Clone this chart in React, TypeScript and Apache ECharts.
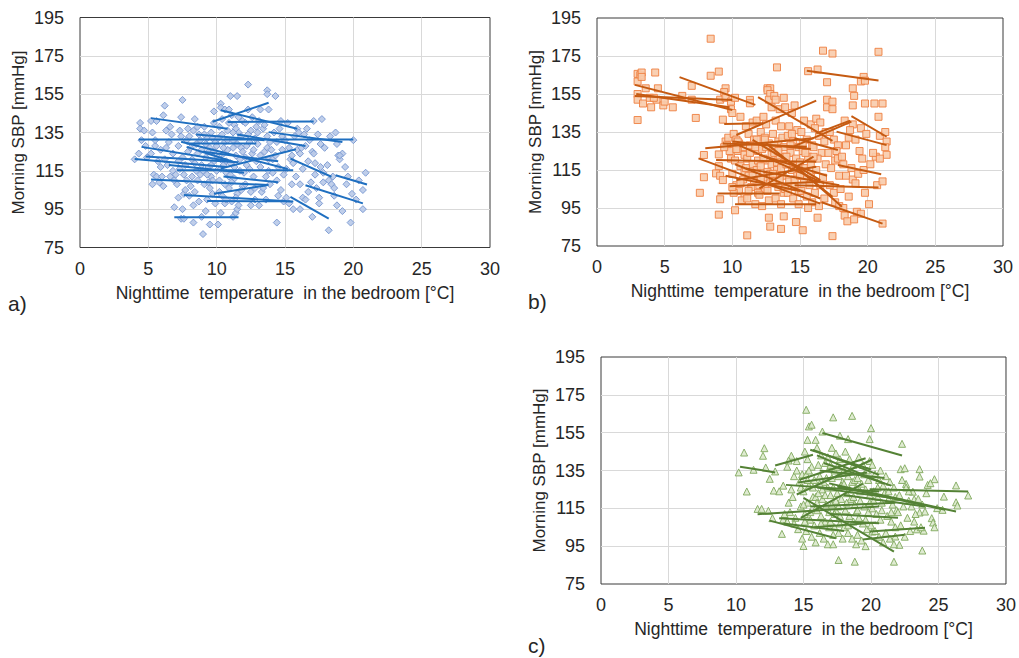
import React, { useEffect, useRef } from "react";
import * as echarts from "echarts";

// Panel a) — [temperature °C, morning SBP mmHg]
const A_POINTS: [number, number][] = [
  [4.0,121],[4.4,140],[4.4,137],[4.7,136],[4.8,128],[4.9,122],[4.5,131],[4.3,124],
  [5.2,141],[5.3,108],[5.4,113],[5.5,128],[5.6,141],[5.2,124],[5.8,109],[5.9,117],[5.5,131],[5.7,120],[5.3,135],[5.9,126],[5.6,112],
  [6.1,107],[6.0,112],[6.2,149],[6.1,144],[6.6,112],[6.3,136],[6.5,130],[6.8,124],[6.2,121],[6.7,134],[6.4,118],[6.9,96],[6.9,110],[6.3,127],[6.6,138],[6.8,115],
  [7.0,113],[7.2,101],[7.4,143],[7.5,152],[7.6,103],[7.4,90],[7.5,95],[7.6,90],[7.2,128],[7.3,136],[7.5,122],[7.7,118],[7.8,131],[7.1,108],[7.9,125],[7.6,113],[7.3,116],[7.8,110],[7.4,133],[7.9,137],[7.7,105],[7.2,120],
  [8.3,88],[8.4,142],[8.0,133],[8.1,127],[8.2,121],[8.5,115],[8.6,110],[8.4,104],[8.7,99],[8.9,91],[8.8,131],[8.3,136],[8.6,124],[8.2,112],[8.9,118],[8.5,129],[8.1,107],[8.7,134],[8.4,119],[8.8,113],[8.0,102],[8.6,138],[8.9,126],[8.3,97],
  [9.0,82],[9.2,94],[9.5,87],[9.1,138],[9.3,132],[9.5,127],[9.2,122],[9.4,117],[9.6,112],[9.1,108],[9.8,146],[9.8,140],[9.7,103],[9.3,100],[9.9,130],[9.6,135],[9.4,125],[9.8,120],[9.0,115],[9.7,110],[9.5,106],[9.2,129],[9.9,98],[9.6,118],[9.3,113],[9.8,125],[9.1,134],[9.7,132],[9.4,109],
  [10.1,87],[10.3,93],[10.3,150],[10.3,148],[10.6,147],[10.9,147],[10.2,138],[10.4,134],[10.6,130],[10.8,126],[10.1,122],[10.5,118],[10.7,114],[10.2,110],[10.9,106],[10.4,102],[10.6,98],[10.0,128],[10.8,136],[10.3,116],[10.5,124],[10.1,132],[10.7,120],[10.9,112],[10.2,104],[10.6,108],[10.4,142],[10.8,131],[10.0,115],[10.5,127],[10.9,140],[10.3,121],[10.7,100],
  [11.0,154],[11.5,154],[11.2,91],[11.4,93],[11.5,95],[11.1,144],[11.3,139],[11.6,135],[11.2,131],[11.8,127],[11.4,123],[11.0,119],[11.7,115],[11.3,111],[11.9,107],[11.5,103],[11.1,99],[11.6,97],[11.2,127],[11.8,133],[11.4,137],[11.0,113],[11.7,121],[11.3,117],[11.9,141],[11.5,129],[11.1,109],[11.8,105],[11.6,143],[11.2,135],[11.4,101],[11.9,125],
  [12.3,160],[12.3,147],[12.1,140],[12.5,136],[12.8,132],[12.2,128],[12.6,124],[12.9,120],[12.4,116],[12.7,112],[12.1,108],[12.5,104],[12.8,100],[12.3,134],[12.9,138],[12.6,143],[12.2,118],[12.7,126],[12.4,130],[12.0,114],[12.8,106],[12.5,97],[12.1,122],
  [13.2,147],[13.7,157],[13.7,155],[13.8,147],[13.1,141],[13.4,137],[13.7,133],[13.0,129],[13.5,125],[13.8,121],[13.2,117],[13.6,112],[13.9,108],[13.3,104],[13.6,100],[13.1,97],[13.5,139],[13.9,130],[13.2,123],[13.8,115],[13.4,106],[13.0,135],[13.7,127],
  [14.3,154],[14.7,141],[14.2,135],[14.4,130],[14.8,126],[14.1,121],[14.5,117],[14.4,110],[14.9,113],[14.4,88],[14.9,99],[14.6,137],[14.0,126],[14.8,133],[14.3,123],[14.7,105],[14.1,114],[14.5,102],
  [15.1,101],[15.6,95],[15.4,121],[15.5,123],[15.6,119],[15.9,137],[15.0,131],[15.3,127],[15.7,133],[15.2,140],[15.8,112],[15.1,116],[15.5,108],[15.3,98],[15.9,126],
  [16.1,124],[16.2,127],[16.5,128],[16.0,135],[16.4,134],[16.1,108],[16.1,95],[16.3,101],[16.5,100],[16.8,131],[16.6,137],[16.3,116],[16.7,120],[16.9,109],[17.0,91],[17.0,125],[17.1,124],[16.7,104],
  [17.7,142],[17.1,141],[17.6,129],[17.2,113],[17.6,117],[17.8,114],[17.8,109],[17.5,98],[17.5,101],[17.4,134],[17.3,106],[17.9,127],[17.2,119],
  [18.7,135],[18.3,133],[18.2,110],[18.4,108],[18.8,97],[18.2,84],[18.6,106],[18.9,123],[18.5,112],[18.8,129],[18.1,118],[18.6,102],
  [19.2,124],[19.0,121],[19.0,123],[19.6,112],[20.0,131],[20.7,105],[19.9,103],[20.7,95],[19.8,88],[19.2,94],[20.9,114],[19.5,108],[20.2,100],[19.4,117],[20.4,110]
];

// Panel a) regression segments [T1, SBP1, T2, SBP2]
const A_LINES: [number, number, number, number][] = [
  [4.3,131.3,20.0,131.3],[5.2,142.5,10.8,137.0],[10.8,140.5,17.1,140.7],[9.7,140.6,13.8,150.5],
  [10.3,146.6,15.9,137.0],[4.0,121.2,10.7,117.0],[4.5,127.5,11.0,120.0],[4.8,122.5,11.6,119.5],
  [5.2,110.5,13.8,107.6],[6.9,90.8,11.6,90.8],[7.6,102.4,15.6,99.0],[9.3,99.3,15.6,99.1],
  [7.4,130.2,15.2,116.0],[15.4,121.4,18.4,111.9],[15.4,101.4,18.2,90.1],[16.5,107.5,20.7,98.0],
  [18.7,112.7,21.0,107.9],[13.8,135.2,19.2,130.1],[10.3,116.2,15.8,126.3],[9.8,103.0,13.7,107.5],
  [7.1,115.3,15.6,115.3],[7.8,129.3,12.9,129.3],[7.8,127.5,11.2,119.7],[11.5,134.0,16.5,128.0],
  [9.0,125.0,14.5,120.0],[8.5,134.0,13.5,131.0],[10.5,112.0,14.5,109.0],[6.5,118.0,12.0,114.0]
];

// Panel b)
const B_POINTS: [number, number][] = [
  [3.0,165.6],[3.2,164.9],[3.3,166.3],[3.0,161.6],[3.0,155],[3.0,152],[3.4,150],[3.0,141.3],[3.3,164],[3.6,158],[3.9,153],
  [4.3,166.3],[4.0,148],[4.4,152],[4.5,158],[4.9,149],[5.0,151],[5.6,148],[4.2,153],
  [6.3,154],[7.0,159.3],[7.0,152],[7.3,142.4],[7.6,103],[7.9,122.9],[7.9,111.2],
  [8.4,184.1],[8.4,164.6],[8.8,113.2],[9.1,112],[9.3,109.7],
  [9.0,166.8],[9.0,91.5],[9.1,99.6],[9.0,123.2],[9.0,117],[9.1,152],[9.5,158],[9.4,156],[9.5,153],[9.9,151],[9.9,147],[10.0,145],[9.3,141.5],[9.5,130],[9.6,128],[9.8,125],[9.7,132],[9.9,121],[9.4,127],
  [10.2,93.8],[10.2,153],[10.6,143],[10.1,134],[10.3,131],[10.5,129],[10.8,127],[10.4,125],[10.9,123],[10.2,120],[10.6,117],[10.0,113],[10.8,110],[10.3,107],[10.5,104],[10.9,101],[10.1,103],[10.7,99],[10.4,130],[10.9,114],[10.3,126],[10.6,108],[10.0,106],
  [11.1,80.6],[11.3,151.9],[11.3,150.1],[11.5,140],[11.8,141],[11.0,138],[11.2,134],[11.6,131],[11.3,128],[11.9,125],[11.1,121],[11.5,118],[11.8,115],[11.2,112],[11.6,109],[11.4,106],[11.9,103],[11.1,100],[11.7,97],[11.3,124],[11.8,131],[11.0,116],[11.5,112],[11.9,120],[11.2,104],[11.7,127],
  [12.6,158],[12.8,158],[12.6,157],[12.8,155],[12.7,152],[12.9,148],[12.8,85.2],[12.7,89.9],[12.3,143],[12.5,139],[12.1,135],[12.4,132],[12.7,129],[12.2,126],[12.9,123],[12.5,120],[12.1,117],[12.6,114],[12.3,111],[12.8,108],[12.4,105],[12.0,102],[12.7,99],[12.2,96],[12.9,118],[12.5,127],[12.1,110],[12.6,104],[12.3,121],[12.8,113],[12.4,131],[12.0,107],
  [13.3,169],[13.1,154],[13.6,84],[13.8,90.6],[13.2,152],[13.5,147],[13.8,153],[13.9,148],[13.2,141],[13.6,138],[13.0,134],[13.4,130],[13.8,127],[13.1,124],[13.5,121],[13.9,118],[13.3,115],[13.7,112],[13.0,109],[13.4,106],[13.8,103],[13.2,100],[13.6,97],[13.9,122],[13.1,128],[13.5,110],[13.7,132],[13.3,119],[13.0,113],[13.9,105],[13.4,125],[13.6,116],
  [14.7,87.6],[14.4,145],[14.6,149],[14.2,138],[14.8,136],[14.1,133],[14.5,130],[14.9,127],[14.3,124],[14.7,121],[14.0,118],[14.4,115],[14.8,112],[14.2,109],[14.6,106],[14.1,103],[14.5,100],[14.9,97],[14.3,128],[14.7,117],[14.0,122],[14.6,110],[14.4,134],[14.9,104],
  [15.2,83.3],[15.6,167],[15.3,141],[15.8,139],[15.1,135],[15.5,131],[15.9,128],[15.2,125],[15.6,122],[15.0,119],[15.4,116],[15.8,113],[15.3,110],[15.7,107],[15.1,104],[15.5,101],[15.9,98],[15.6,95],[15.2,129],[15.8,118],[15.4,124],[15.0,112],
  [16.7,177.8],[16.3,167.9],[16.3,89.9],[16.2,142],[16.5,140],[16.1,137],[16.4,133],[16.8,130],[16.0,127],[16.6,124],[16.3,121],[16.9,118],[16.2,115],[16.7,111],[16.5,107],[16.1,103],[16.8,100],[16.4,96],[16.9,135],[16.0,122],
  [17.4,176.3],[17.0,161.2],[17.0,152],[17.0,148],[17.4,151],[17.4,147],[17.4,80.2],[17.2,135],[17.5,131],[17.8,128],[17.1,124],[17.6,120],[17.3,116],[17.9,112],[17.5,103],[17.6,98],[17.9,96],[17.2,107],[17.8,121],[17.7,125],
  [18.2,95],[18.3,91],[18.5,88],[18.0,105],[18.4,112],[18.8,116],[18.1,122],[18.6,132],[18.9,139],[18.3,141],[18.7,136],[18.4,128],[18.9,110],[18.6,101],[18.2,118],[18.9,158],[19.0,154],[18.9,149],
  [19.1,131],[19.5,137],[19.3,113],[19.7,115],[19.2,93],[19.5,92],[19.7,164],[19.5,161.6],[19.8,162],[19.8,150],[19.0,89],[19.6,121],[19.9,134],[19.4,125],[19.8,103],[19.1,108],
  [20.8,177.2],[20.5,150],[21.1,150],[20.8,143],[20.9,133],[21.3,135],[21.4,130],[21.3,127],[21.4,123],[20.6,122],[20.9,121],[20.7,107],[21.1,109],[20.2,118],[21.1,86.8],[20.4,124],[20.1,97]
];

const B_LINES: [number, number, number, number][] = [
  [2.8,159.8,10.0,146.6],[2.8,154.0,10.0,151.9],[2.9,155.0,9.8,148.0],[6.1,163.9,11.7,149.3],
  [15.5,167.2,20.8,162.1],[11.9,153.4,17.4,130.3],[10.3,133.4,16.2,151.5],[9.4,139.2,12.3,139.6],
  [18.8,143.4,21.4,132.5],[17.7,135.2,21.4,128.1],[16.2,134.3,18.7,141.0],[17.8,117.6,21.0,112.8],
  [14.6,107.0,20.8,105.8],[16.6,98.0,21.1,86.8],[8.0,126.4,16.0,131.7],[7.5,121.1,16.5,97.3],
  [8.9,102.6,13.5,102.6],[10.2,97.0,16.2,97.0],[8.8,120.2,16.2,119.3],[9.3,129.0,15.5,127.3],
  [11.0,115.8,17.9,107.0],[11.5,130.8,16.5,109.7],[12.5,129.0,17.4,100.9],[10.3,109.7,16.2,116.7],
  [12.0,105.3,16.0,122.0],[9.8,106.5,16.5,108.8],[14.6,127.6,18.8,140.5],[14.6,131.7,17.8,125.5],
  [14.6,117.6,18.1,95.6],[10.5,128.0,16.8,108.0],[10.2,118.0,16.5,100.0],[10.0,130.0,15.8,126.0],
  [12.0,123.0,17.0,112.0],[9.5,112.0,15.0,104.0]
];

// Panel c)
const C_POINTS: [number, number][] = [
  [15.2,167.1],[17.2,163.1],[18.6,163.9],[15.4,158.3],[15.6,159.2],[20.0,157.4],[16.4,155.6],[17.7,153.4],[18.3,151.6],[15.3,151.2],[15.9,151.2],[19.9,151.6],[22.3,149.1],
  [10.6,144.5],[12.1,146.8],[12.0,142.8],[14.1,142.8],[13.9,140.3],[10.2,134],[11.3,135.4],[12.2,136.6],[12.9,134.5],[12.5,130.6],[10.8,123.9],[12.8,124.4],
  [11.6,114.7],[11.9,114.7],[12.4,113.7],[12.7,109.8],[13.5,109.2],[13.4,101.5],[13.8,108],[15.0,95.1],[17.6,87.7],[18.8,86.8],[21.7,86.8],[23.8,92.7],
  [23.6,135.7],[23.6,131.8],[22.2,135.7],[22.5,136.2],[24.7,130.4],[26.3,127.1],[27.2,121.8],[25.4,121.2],[24.2,127.4],[24.4,128.3],[24.1,123],
  [26.3,118.2],[26.4,116.5],[24.9,115.1],[25.3,114.2],[23.2,119.8],[23.1,123.8],[22.6,127.9],[23.6,112.8],[24.0,113.3],[24.5,109.8],[24.6,107.5],[24.7,105],
  [23.9,103.2],[23.4,103.9],[21.8,100.1],[22.1,95.7],[20.1,102.7],
  [13.5,127],[13.2,124],[13.8,137],[13.6,112],[13.9,118],
  [14.1,125],[14.3,132],[14.5,135],[14.7,129],[14.2,121],[14.8,116],[14.4,110],[14.6,104],[14.9,99],[14.0,113],[14.5,140],[14.8,126],[14.3,107],[14.9,133],
  [15.1,145],[15.3,141],[15.6,137],[15.2,133],[15.8,130],[15.4,127],[15.0,124],[15.7,121],[15.3,118],[15.9,115],[15.1,112],[15.5,109],[15.8,106],[15.2,103],[15.6,100],[15.9,97],[15.4,135],[15.0,117],[15.7,126],[15.5,113],[15.3,130],[15.9,121],[15.1,108],
  [16.0,147],[16.3,143],[16.6,139],[16.9,136],[16.2,132],[16.5,129],[16.8,126],[16.1,123],[16.4,120],[16.7,117],[16.0,114],[16.3,111],[16.6,108],[16.9,105],[16.2,102],[16.5,99],[16.8,96],[16.1,138],[16.7,131],[16.4,125],[16.0,118],[16.9,113],[16.3,107],[16.6,122],[16.8,142],[16.2,128],
  [17.1,147],[17.4,144],[17.7,141],[17.0,138],[17.3,135],[17.6,132],[17.9,129],[17.2,126],[17.5,123],[17.8,120],[17.1,117],[17.4,114],[17.7,111],[17.0,108],[17.3,105],[17.6,102],[17.9,99],[17.2,96],[17.5,137],[17.8,127],[17.1,131],[17.4,119],[17.7,107],[17.0,122],[17.3,112],[17.9,134],[17.6,116],[17.2,101],
  [18.1,145],[18.4,141],[18.7,138],[18.0,135],[18.3,132],[18.6,129],[18.9,126],[18.2,123],[18.5,120],[18.8,117],[18.1,114],[18.4,111],[18.7,108],[18.0,105],[18.3,102],[18.6,99],[18.9,96],[18.5,135],[18.8,130],[18.2,118],[18.9,113],[18.4,125],[18.0,128],[18.7,121],[18.3,106],
  [19.1,142],[19.4,138],[19.7,135],[19.0,131],[19.3,128],[19.6,125],[19.9,122],[19.2,119],[19.5,116],[19.8,113],[19.1,110],[19.4,107],[19.7,104],[19.0,101],[19.3,98],[19.6,95],[19.9,140],[19.8,130],[19.2,124],[19.5,133],[19.9,118],[19.0,114],[19.6,109],
  [20.1,138],[20.3,133],[20.6,130],[20.9,127],[20.2,124],[20.5,121],[20.8,118],[20.1,115],[20.4,112],[20.7,109],[20.0,106],[20.3,103],[20.6,100],[20.9,97],[20.5,126],[20.8,114],[20.2,119],[20.7,135],
  [21.1,132],[21.4,129],[21.7,126],[21.0,123],[21.3,120],[21.6,117],[21.9,114],[21.2,111],[21.5,108],[21.8,105],[21.1,102],[21.4,99],[21.7,96],[21.3,124],[21.8,121],[21.5,113],
  [22.3,130],[22.6,126],[22.1,122],[22.8,119],[22.4,116],[22.0,113],[22.7,110],[22.2,106],[22.9,103],[22.5,100],[22.8,124],
  [23.0,116],[23.3,112],[23.5,120],[23.8,117],[23.2,108],[23.7,105]
];

const C_LINES: [number, number, number, number][] = [
  [10.3,137.0,12.9,134.0],[12.9,137.6,15.7,143.3],[16.4,154.8,22.3,142.9],[15.7,145.9,20.6,132.7],
  [15.5,146.0,20.0,135.5],[16.0,143.0,21.0,128.0],[14.6,128.6,19.7,133.9],[13.7,127.4,20.6,123.9],
  [19.9,125.1,27.2,123.9],[16.9,128.2,26.3,113.3],[17.5,126.5,25.5,114.2],[11.6,111.9,20.6,116.0],
  [13.2,109.8,20.6,107.1],[12.5,108.5,17.4,99.2],[15.0,120.5,21.7,92.1],[19.9,102.7,24.0,104.8],
  [19.4,98.5,22.5,101.0],[14.5,122.3,20.1,140.8],[14.7,130.1,19.6,141.5],[15.8,105.0,20.4,107.5],
  [16.5,139.0,21.5,127.0],[18.0,122.0,24.0,116.0],[15.5,116.0,21.8,118.0],[16.0,126.0,22.0,120.0],
  [17.0,112.0,22.0,110.0],[14.8,110.0,19.4,128.0],[13.5,107.0,18.0,103.0],[16.2,135.0,21.0,131.0]
];

const X_NAME = "Nighttime  temperature  in the bedroom [°C]";
const Y_NAME = "Morning SBP [mmHg]";
const PANEL_LABELS = ["a)", "b)", "c)"];

const FONT = "'Liberation Sans', Arial, sans-serif";

export default function App() {
  const ref = useRef<HTMLDivElement>(null);

  useEffect(() => {
    if (!ref.current) return;
    const chart = echarts.init(ref.current, undefined, { renderer: "svg" });

    const panels = [
      { points: A_POINTS, lines: A_LINES, symbol: "diamond", size: 7, fill: "#b8c9e8", border: "#7596d0", line: "#1f6fc0" },
      { points: B_POINTS, lines: B_LINES, symbol: "rect", size: 7, fill: "#f8cbab", border: "#ee8040", line: "#c55a11" },
      { points: C_POINTS, lines: C_LINES, symbol: "triangle", size: 7, fill: "#dbe9cc", border: "#80a85c", line: "#548235" },
    ];
    const grids = [
      { left: 80, top: 17.5, width: 410, height: 230 },
      { left: 597, top: 18, width: 406, height: 228 },
      { left: 601, top: 357, width: 406, height: 227 },
    ];

    const xAxes = grids.map((_, i) => ({
      type: "value", gridIndex: i, min: 0, max: 30, interval: 5,
      name: X_NAME, nameLocation: "middle", nameGap: 36,
      nameTextStyle: { fontSize: 17.5, color: "#262626", fontFamily: FONT },
      axisLine: { show: false }, axisTick: { show: false },
      axisLabel: { fontSize: 18, color: "#262626", margin: 12, fontFamily: FONT },
      splitLine: { show: true, showMinLine: false, showMaxLine: false, lineStyle: { color: "#d9d9d9", width: 1 } },
    }));
    const yAxes = grids.map((_, i) => ({
      type: "value", gridIndex: i, min: 75, max: 195, interval: 20,
      name: Y_NAME, nameLocation: "middle", nameGap: 53,
      nameTextStyle: { fontSize: 17, color: "#262626", fontFamily: FONT },
      axisLine: { show: false }, axisTick: { show: false },
      axisLabel: { fontSize: 18, color: "#262626", margin: 16, fontFamily: FONT },
      splitLine: { show: true, showMinLine: false, showMaxLine: false, lineStyle: { color: "#d9d9d9", width: 1 } },
    }));

    const series: any[] = [];
    panels.forEach((p, i) => {
      series.push({
        type: "scatter", xAxisIndex: i, yAxisIndex: i, data: p.points,
        symbol: p.symbol, symbolSize: p.size, z: 2, silent: true,
        itemStyle: { color: p.fill, borderColor: p.border, borderWidth: 1, opacity: 0.9 },
      });
      p.lines.forEach((l) => {
        series.push({
          type: "line", xAxisIndex: i, yAxisIndex: i,
          data: [[l[0], l[1]], [l[2], l[3]]],
          symbol: "none", z: 3, silent: true,
          lineStyle: { color: p.line, width: 2 },
        });
      });
    });

    chart.setOption({
      animation: false,
      backgroundColor: "#ffffff",
      grid: grids.map((g) => ({ ...g, show: true, borderColor: "#3a3a3a", borderWidth: 1, backgroundColor: "transparent" })),
      xAxis: xAxes,
      yAxis: yAxes,
      series,
      graphic: [
        { type: "text", left: 8, top: 293, style: { text: PANEL_LABELS[0], fontSize: 21, fill: "#262626", fontFamily: FONT } },
        { type: "text", left: 528, top: 291, style: { text: PANEL_LABELS[1], fontSize: 21, fill: "#262626", fontFamily: FONT } },
        { type: "text", left: 528, top: 635, style: { text: PANEL_LABELS[2], fontSize: 21, fill: "#262626", fontFamily: FONT } },
      ],
    });

    return () => chart.dispose();
  }, []);

  return (
    <div
      ref={ref}
      style={{ position: "fixed", left: 0, top: 0, width: 1019, height: 658, background: "#fff" }}
    />
  );
}
